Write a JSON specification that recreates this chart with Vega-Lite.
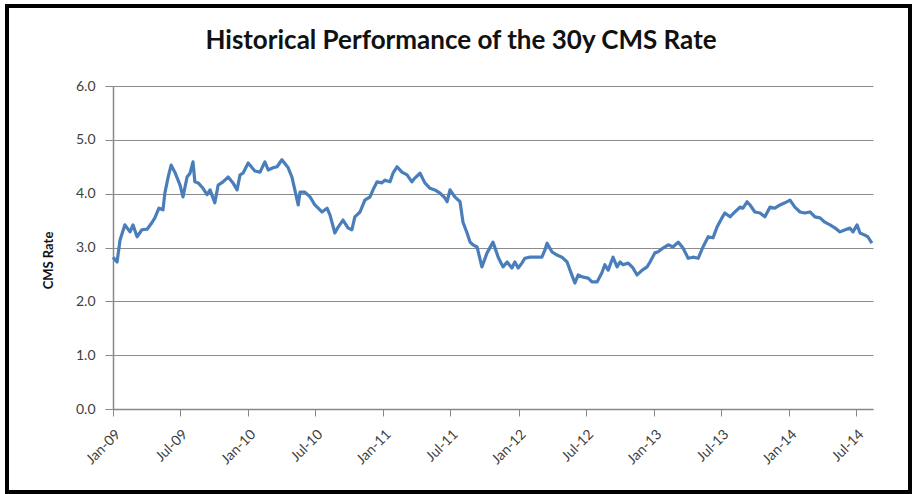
{
  "$schema": "https://vega.github.io/schema/vega-lite/v6.json",
  "width": 760,
  "height": 323,
  "autosize": {"type": "none"},
  "padding": {"left": 113, "top": 86, "right": 42, "bottom": 85},
  "background": "white",
  "config": {
    "view": {"stroke": null},
    "font": "Lato",
    "axis": {"labelFont": "Lato", "titleFont": "Lato"}
  },
  "title": {
    "text": "Historical Performance of the 30y CMS Rate",
    "fontSize": 26,
    "font": "Lato",
    "fontWeight": "bold",
    "color": "#111111",
    "anchor": "middle",
    "dx": -32,
    "offset": -50
  },
  "data": {
    "values": [
      {"date": "2009-01-01", "rate": 2.82},
      {"date": "2009-01-12", "rate": 2.73},
      {"date": "2009-01-20", "rate": 3.14},
      {"date": "2009-02-02", "rate": 3.42},
      {"date": "2009-02-16", "rate": 3.29},
      {"date": "2009-02-24", "rate": 3.42},
      {"date": "2009-03-07", "rate": 3.2},
      {"date": "2009-03-20", "rate": 3.33},
      {"date": "2009-04-03", "rate": 3.34},
      {"date": "2009-04-16", "rate": 3.46},
      {"date": "2009-04-24", "rate": 3.55},
      {"date": "2009-05-05", "rate": 3.73},
      {"date": "2009-05-16", "rate": 3.7},
      {"date": "2009-05-21", "rate": 4.01},
      {"date": "2009-05-30", "rate": 4.31},
      {"date": "2009-06-07", "rate": 4.53},
      {"date": "2009-06-17", "rate": 4.4},
      {"date": "2009-07-01", "rate": 4.16},
      {"date": "2009-07-09", "rate": 3.94},
      {"date": "2009-07-20", "rate": 4.31},
      {"date": "2009-07-28", "rate": 4.38},
      {"date": "2009-08-05", "rate": 4.59},
      {"date": "2009-08-10", "rate": 4.22},
      {"date": "2009-08-19", "rate": 4.2},
      {"date": "2009-09-01", "rate": 4.1},
      {"date": "2009-09-12", "rate": 3.98},
      {"date": "2009-09-20", "rate": 4.07},
      {"date": "2009-10-03", "rate": 3.83},
      {"date": "2009-10-12", "rate": 4.16},
      {"date": "2009-10-25", "rate": 4.22},
      {"date": "2009-11-08", "rate": 4.31},
      {"date": "2009-11-21", "rate": 4.2},
      {"date": "2009-12-02", "rate": 4.07},
      {"date": "2009-12-10", "rate": 4.35},
      {"date": "2009-12-18", "rate": 4.38},
      {"date": "2010-01-01", "rate": 4.57},
      {"date": "2010-01-19", "rate": 4.42},
      {"date": "2010-02-02", "rate": 4.4},
      {"date": "2010-02-15", "rate": 4.59},
      {"date": "2010-02-24", "rate": 4.44},
      {"date": "2010-03-09", "rate": 4.48},
      {"date": "2010-03-20", "rate": 4.5},
      {"date": "2010-04-02", "rate": 4.63},
      {"date": "2010-04-19", "rate": 4.48},
      {"date": "2010-04-29", "rate": 4.31},
      {"date": "2010-05-07", "rate": 4.07},
      {"date": "2010-05-16", "rate": 3.79},
      {"date": "2010-05-21", "rate": 4.03},
      {"date": "2010-06-03", "rate": 4.03},
      {"date": "2010-06-17", "rate": 3.94},
      {"date": "2010-06-30", "rate": 3.79},
      {"date": "2010-07-09", "rate": 3.73},
      {"date": "2010-07-19", "rate": 3.66},
      {"date": "2010-08-02", "rate": 3.73},
      {"date": "2010-08-10", "rate": 3.6},
      {"date": "2010-08-23", "rate": 3.27},
      {"date": "2010-09-01", "rate": 3.38},
      {"date": "2010-09-14", "rate": 3.51},
      {"date": "2010-09-28", "rate": 3.36},
      {"date": "2010-10-08", "rate": 3.33},
      {"date": "2010-10-16", "rate": 3.57},
      {"date": "2010-10-30", "rate": 3.66},
      {"date": "2010-11-12", "rate": 3.88},
      {"date": "2010-11-26", "rate": 3.94},
      {"date": "2010-12-04", "rate": 4.07},
      {"date": "2010-12-15", "rate": 4.22},
      {"date": "2010-12-28", "rate": 4.2},
      {"date": "2011-01-05", "rate": 4.25},
      {"date": "2011-01-19", "rate": 4.22},
      {"date": "2011-01-27", "rate": 4.38},
      {"date": "2011-02-07", "rate": 4.5},
      {"date": "2011-02-20", "rate": 4.4},
      {"date": "2011-03-06", "rate": 4.35},
      {"date": "2011-03-19", "rate": 4.22},
      {"date": "2011-03-27", "rate": 4.29},
      {"date": "2011-04-10", "rate": 4.38},
      {"date": "2011-04-23", "rate": 4.2},
      {"date": "2011-05-07", "rate": 4.1},
      {"date": "2011-05-20", "rate": 4.07},
      {"date": "2011-06-03", "rate": 4.01},
      {"date": "2011-06-16", "rate": 3.92},
      {"date": "2011-06-22", "rate": 3.85},
      {"date": "2011-06-30", "rate": 4.07},
      {"date": "2011-07-13", "rate": 3.94},
      {"date": "2011-07-27", "rate": 3.85},
      {"date": "2011-08-04", "rate": 3.47},
      {"date": "2011-08-15", "rate": 3.27},
      {"date": "2011-08-23", "rate": 3.1},
      {"date": "2011-08-31", "rate": 3.05},
      {"date": "2011-09-11", "rate": 3.01},
      {"date": "2011-09-24", "rate": 2.64},
      {"date": "2011-10-08", "rate": 2.9},
      {"date": "2011-10-24", "rate": 3.1},
      {"date": "2011-11-07", "rate": 2.82},
      {"date": "2011-11-20", "rate": 2.64},
      {"date": "2011-12-01", "rate": 2.73},
      {"date": "2011-12-14", "rate": 2.62},
      {"date": "2011-12-22", "rate": 2.73},
      {"date": "2011-12-31", "rate": 2.62},
      {"date": "2012-01-10", "rate": 2.71},
      {"date": "2012-01-18", "rate": 2.8},
      {"date": "2012-02-01", "rate": 2.82},
      {"date": "2012-02-20", "rate": 2.82},
      {"date": "2012-03-04", "rate": 2.82},
      {"date": "2012-03-12", "rate": 2.95},
      {"date": "2012-03-18", "rate": 3.08},
      {"date": "2012-03-31", "rate": 2.92},
      {"date": "2012-04-14", "rate": 2.86},
      {"date": "2012-04-27", "rate": 2.82},
      {"date": "2012-05-11", "rate": 2.73},
      {"date": "2012-05-19", "rate": 2.58},
      {"date": "2012-06-01", "rate": 2.34},
      {"date": "2012-06-10", "rate": 2.49},
      {"date": "2012-06-23", "rate": 2.45},
      {"date": "2012-07-07", "rate": 2.43},
      {"date": "2012-07-17", "rate": 2.36},
      {"date": "2012-07-31", "rate": 2.36},
      {"date": "2012-08-13", "rate": 2.53},
      {"date": "2012-08-21", "rate": 2.68},
      {"date": "2012-08-30", "rate": 2.58},
      {"date": "2012-09-12", "rate": 2.82},
      {"date": "2012-09-23", "rate": 2.64},
      {"date": "2012-10-01", "rate": 2.73},
      {"date": "2012-10-09", "rate": 2.68},
      {"date": "2012-10-23", "rate": 2.71},
      {"date": "2012-11-05", "rate": 2.62},
      {"date": "2012-11-16", "rate": 2.49},
      {"date": "2012-11-30", "rate": 2.58},
      {"date": "2012-12-13", "rate": 2.64},
      {"date": "2012-12-21", "rate": 2.73},
      {"date": "2013-01-03", "rate": 2.9},
      {"date": "2013-01-12", "rate": 2.92},
      {"date": "2013-01-25", "rate": 2.99},
      {"date": "2013-02-08", "rate": 3.05},
      {"date": "2013-02-21", "rate": 3.01},
      {"date": "2013-03-07", "rate": 3.1},
      {"date": "2013-03-20", "rate": 2.99},
      {"date": "2013-04-03", "rate": 2.8},
      {"date": "2013-04-16", "rate": 2.82},
      {"date": "2013-04-30", "rate": 2.8},
      {"date": "2013-05-13", "rate": 3.01},
      {"date": "2013-05-27", "rate": 3.2},
      {"date": "2013-06-09", "rate": 3.18},
      {"date": "2013-06-20", "rate": 3.38},
      {"date": "2013-07-03", "rate": 3.55},
      {"date": "2013-07-11", "rate": 3.64},
      {"date": "2013-07-25", "rate": 3.57},
      {"date": "2013-08-07", "rate": 3.66},
      {"date": "2013-08-21", "rate": 3.75},
      {"date": "2013-08-29", "rate": 3.73},
      {"date": "2013-09-09", "rate": 3.85},
      {"date": "2013-09-17", "rate": 3.79},
      {"date": "2013-09-30", "rate": 3.66},
      {"date": "2013-10-14", "rate": 3.64},
      {"date": "2013-10-27", "rate": 3.57},
      {"date": "2013-11-10", "rate": 3.75},
      {"date": "2013-11-23", "rate": 3.73},
      {"date": "2013-12-07", "rate": 3.79},
      {"date": "2013-12-20", "rate": 3.83},
      {"date": "2014-01-03", "rate": 3.88},
      {"date": "2014-01-16", "rate": 3.75},
      {"date": "2014-01-30", "rate": 3.66},
      {"date": "2014-02-12", "rate": 3.64},
      {"date": "2014-02-26", "rate": 3.66},
      {"date": "2014-03-11", "rate": 3.57},
      {"date": "2014-03-25", "rate": 3.55},
      {"date": "2014-04-07", "rate": 3.47},
      {"date": "2014-04-21", "rate": 3.42},
      {"date": "2014-05-05", "rate": 3.36},
      {"date": "2014-05-18", "rate": 3.29},
      {"date": "2014-06-01", "rate": 3.33},
      {"date": "2014-06-14", "rate": 3.36},
      {"date": "2014-06-22", "rate": 3.29},
      {"date": "2014-07-03", "rate": 3.42},
      {"date": "2014-07-11", "rate": 3.27},
      {"date": "2014-07-24", "rate": 3.23},
      {"date": "2014-08-01", "rate": 3.2},
      {"date": "2014-08-12", "rate": 3.08}
    ]
  },
  "layer": [
    {
      "mark": {"type": "line", "color": "#4A7EBB", "strokeWidth": 3.2, "strokeJoin": "round"},
      "encoding": {
        "x": {
          "field": "date",
          "type": "temporal",
          "title": null,
          "scale": {"domain": [{"year": 2009, "month": 1, "date": 1}, {"year": 2014, "month": 8, "date": 15}], "nice": false},
          "axis": {
            "values": [
              {"year": 2009, "month": 1, "date": 1}, {"year": 2009, "month": 7, "date": 1},
              {"year": 2010, "month": 1, "date": 1}, {"year": 2010, "month": 7, "date": 1},
              {"year": 2011, "month": 1, "date": 1}, {"year": 2011, "month": 7, "date": 1},
              {"year": 2012, "month": 1, "date": 1}, {"year": 2012, "month": 7, "date": 1},
              {"year": 2013, "month": 1, "date": 1}, {"year": 2013, "month": 7, "date": 1},
              {"year": 2014, "month": 1, "date": 1}, {"year": 2014, "month": 7, "date": 1}
            ],
            "format": "%b-%y",
            "labelAngle": -45,
            "labelFontSize": 14,
            "labelColor": "#404040",
            "labelPadding": 11,
            "tickSize": 7,
            "tickColor": "#888888",
            "domainColor": "#888888",
            "domainWidth": 1.5,
            "grid": false,
            "labelOverlap": false,
            "labelFlush": false
          }
        },
        "y": {
          "field": "rate",
          "type": "quantitative",
          "title": "CMS Rate",
          "scale": {"domain": [0, 6], "nice": false, "zero": true},
          "axis": {
            "values": [0, 1, 2, 3, 4, 5, 6],
            "format": ".1f",
            "labelFontSize": 14,
            "labelColor": "#404040",
            "labelPadding": 10,
            "tickSize": 8,
            "tickColor": "#888888",
            "domainColor": "#888888",
            "domainWidth": 1.5,
            "grid": true,
            "gridColor": "#8c8c8c",
            "gridWidth": 1.2,
            "titleFontSize": 13,
            "titleFontWeight": "bold",
            "titleColor": "#111111",
            "titlePadding": 20,
            "titleY": 174
          }
        }
      }
    },
    {
      "mark": {"type": "rect", "fill": null, "stroke": "#000000", "strokeWidth": 3},
      "encoding": {
        "x": {"datum": {"year": 2008, "month": 3, "date": 21}, "type": "temporal"},
        "x2": {"datum": {"year": 2014, "month": 11, "date": 23}},
        "y": {"datum": 7.487, "type": "quantitative"},
        "y2": {"datum": -1.542}
      }
    }
  ]
}
